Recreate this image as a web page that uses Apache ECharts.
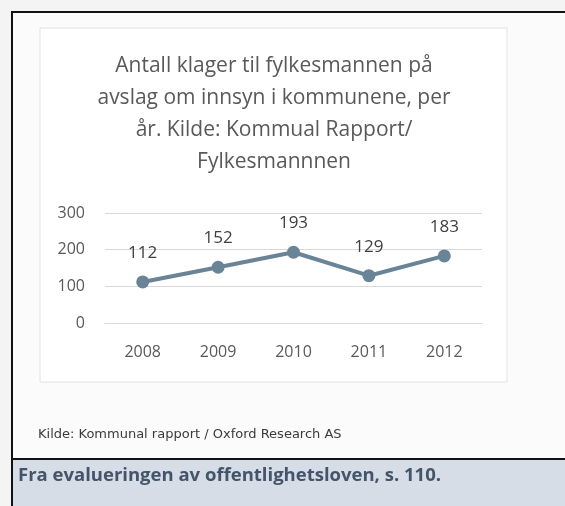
<!DOCTYPE html>
<html>
<head>
<meta charset="utf-8">
<script src="https://cdn.jsdelivr.net/npm/echarts@6/dist/echarts.min.js"></script>
<style>
  html, body { margin: 0; padding: 0; background: #f4f4f4; }
  #chart { width: 565px; height: 506px; }
</style>
</head>
<body>
<div id="chart"></div>
<script>
var years = ['2008', '2009', '2010', '2011', '2012'];
var klager = [112, 152, 193, 129, 183];
var titleLines = [
    'Antall klager til fylkesmannen på',
    'avslag om innsyn i kommunene, per',
    'år. Kilde: Kommual Rapport/',
    'Fylkesmannnen'
];
var sourceText = 'Kilde: Kommunal rapport / Oxford Research AS';
var captionText = 'Fra evalueringen av offentlighetsloven, s. 110.';

var chart = echarts.init(document.getElementById('chart'));
var option = {
    backgroundColor: '#f4f4f4',
    animation: false,
    graphic: [
        {
            type: 'rect', z: -10,
            shape: {x: 12, y: 12, width: 570, height: 460},
            style: {fill: '#fbfbfb', stroke: '#111', lineWidth: 2}
        },
        {
            type: 'rect', z: -9,
            shape: {x: 40, y: 28, width: 467, height: 354},
            style: {fill: '#ffffff', stroke: '#e2e2e2', lineWidth: 1}
        },
        {
            type: 'text', z: 5,
            x: 274, y: 50,
            style: {
                text: titleLines.join('\n'),
                align: 'center',
                lineHeight: 32,
                font: '21px "Open Sans"',
                fill: '#595959'
            }
        },
        {
            type: 'text', z: 5,
            x: 38, y: 428,
            style: {
                text: sourceText,
                font: '13px "DejaVu Sans"',
                fill: '#3a3a3a'
            }
        },
        {
            type: 'rect', z: 4,
            shape: {x: 12, y: 459, width: 570, height: 60},
            style: {fill: '#d6dde6', stroke: '#111', lineWidth: 2}
        },
        {
            type: 'text', z: 5,
            x: 18, y: 466,
            style: {
                text: captionText,
                font: 'bold 18.5px "Open Sans"',
                fill: '#44546a'
            }
        }
    ],
    grid: {left: 105, right: 83, top: 213, bottom: 183},
    xAxis: {
        type: 'category',
        data: years,
        axisLine: {lineStyle: {color: '#d9d9d9'}},
        axisTick: {show: false},
        axisLabel: {color: '#595959', fontSize: 16, fontFamily: 'Open Sans', margin: 21}
    },
    yAxis: {
        type: 'value',
        min: 0,
        max: 300,
        interval: 100,
        axisLine: {show: false},
        axisTick: {show: false},
        splitLine: {lineStyle: {color: '#d9d9d9'}},
        axisLabel: {color: '#595959', fontSize: 16, fontFamily: 'Open Sans', margin: 20}
    },
    series: [
        {
            type: 'line',
            data: klager,
            symbol: 'circle',
            symbolSize: 13,
            lineStyle: {color: '#6a8497', width: 4},
            itemStyle: {color: '#6a8497'},
            label: {
                show: true,
                position: 'top',
                distance: 14,
                color: '#404040',
                fontSize: 17,
                fontFamily: 'Open Sans'
            }
        }
    ]
};
chart.setOption(option);
</script>
</body>
</html>
